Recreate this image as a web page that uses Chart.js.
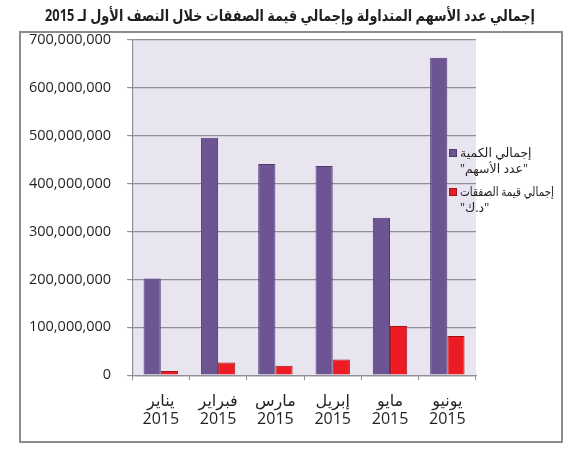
<!DOCTYPE html>
<html lang="ar">
<head>
<meta charset="utf-8">
<title>Chart</title>
<script src="https://cdn.jsdelivr.net/npm/chart.js@4.4.1/dist/chart.umd.min.js"></script>
<style>
    html, body { margin: 0; padding: 0; background: #ffffff; }
    #wrap { width: 576px; height: 450px; position: relative; }
</style>
</head>
<body>
<div id="wrap"><canvas id="chartMain" width="576" height="450"></canvas></div>
<script>

// ======================
// DATA
// ======================
const judul = "إجمالي عدد الأسهم المتداولة وإجمالي قيمة الصفقات خلال النصف الأول لـ 2015";

const bulan = ["يناير", "فبراير", "مارس", "إبريل", "مايو", "يونيو"];
const tahun = ["2015", "2015", "2015", "2015", "2015", "2015"];

const jumlahSaham = [202000000, 496000000, 441000000, 437000000, 329000000, 663000000];
const nilaiTransaksi = [9000000, 26500000, 19600000, 33000000, 103000000, 82000000];

const legendSaham = ["إجمالي الكمية", "\"عدد الأسهم\""];
const legendNilai = ["إجمالي قيمة الصفقات", "\"د.ك\""];

const yMax = 700000000;
const yStep = 100000000;


// ======================
// STYLE
// ======================
const FONT = "'Open Sans', 'DejaVu Sans', sans-serif";
const ungu = "#6d5593";
const unguGaris = "#4f3b70";
const merah = "#ed1c24";
const merahGaris = "#a3141b";
const latarPlot = "#e9e5f0";
const abu = "#8f8f96";
const teks = "#231f20";


// ======================
// PLUGIN: BACKGROUND, BORDER, TITLE, LEGEND
// ======================
const hiasan = {
    id: "hiasan",
    beforeDraw(chart) {
        const ctx = chart.ctx;
        const a = chart.chartArea;
        ctx.save();
        ctx.fillStyle = latarPlot;
        ctx.fillRect(a.left, a.top, a.right - a.left, a.bottom - a.top);
        ctx.restore();
    },
    afterDraw(chart) {
        const ctx = chart.ctx;
        ctx.save();

        // bingkai luar
        ctx.strokeStyle = "#8c8c8c";
        ctx.lineWidth = 2;
        ctx.strokeRect(20, 32, 542, 410);

        // judul
        ctx.fillStyle = teks;
        ctx.font = "bold 16px " + FONT;
        ctx.textAlign = "center";
        ctx.textBaseline = "middle";
        ctx.direction = "rtl";
        ctx.fillText(judul, 290, 16, 490);

        // legend
        const ds = chart.data.datasets;
        drawLegend(ctx, ds[0], legendSaham, 153);
        drawLegend(ctx, ds[1], legendNilai, 192);

        ctx.restore();
    }
};

function drawLegend(ctx, ds, baris, y) {
    ctx.fillStyle = ds.backgroundColor;
    ctx.fillRect(449, y - 4, 8, 8);
    ctx.strokeStyle = ds.borderColor;
    ctx.lineWidth = 1;
    ctx.strokeRect(449.5, y - 3.5, 7, 7);

    ctx.fillStyle = teks;
    ctx.font = "12.5px " + FONT;
    ctx.direction = "rtl";
    ctx.textAlign = "left";
    ctx.textBaseline = "middle";
    baris.forEach((t, i) => {
        ctx.fillText(t, 460, y + i * 16, 94);
    });
}


// ======================
// CHART
// ======================
function formatAngka(v) {
    return v.toString().replace(/\B(?=(\d{3})+(?!\d))/g, ",");
}

new Chart(document.getElementById("chartMain"), {
    type: "bar",
    data: {
        labels: bulan.map((b, i) => [b, tahun[i]]),
        datasets: [
            {
                label: legendSaham.join(" "),
                data: jumlahSaham,
                backgroundColor: ungu,
                borderColor: unguGaris,
                borderWidth: 1,
                categoryPercentage: 0.6,
                barPercentage: 1.0
            },
            {
                label: legendNilai.join(" "),
                data: nilaiTransaksi,
                backgroundColor: merah,
                borderColor: merahGaris,
                borderWidth: 1,
                categoryPercentage: 0.6,
                barPercentage: 1.0
            }
        ]
    },
    options: {
        responsive: false,
        animation: false,
        layout: {
            padding: { left: 13, right: 100, top: 40, bottom: 9 }
        },
        plugins: {
            legend: { display: false },
            title: { display: false },
            tooltip: { enabled: false }
        },
        scales: {
            x: {
                grid: {
                    display: true,
                    drawOnChartArea: false,
                    drawTicks: true,
                    tickLength: 5,
                    color: abu,
                    offset: true
                },
                border: { display: true, color: abu, width: 1.2 },
                ticks: {
                    color: teks,
                    font: { family: FONT, size: 16, lineHeight: 1.15 },
                    padding: 12,
                    maxRotation: 0
                }
            },
            y: {
                min: 0,
                max: yMax,
                grid: {
                    color: abu,
                    lineWidth: 1.2,
                    tickLength: 5,
                    drawTicks: true
                },
                border: { display: true, color: abu, width: 1.2 },
                ticks: {
                    stepSize: yStep,
                    color: teks,
                    font: { family: FONT, size: 14.5 },
                    padding: 16,
                    callback: (v) => formatAngka(v)
                }
            }
        }
    },
    plugins: [hiasan]
});

</script>
</body>
</html>
